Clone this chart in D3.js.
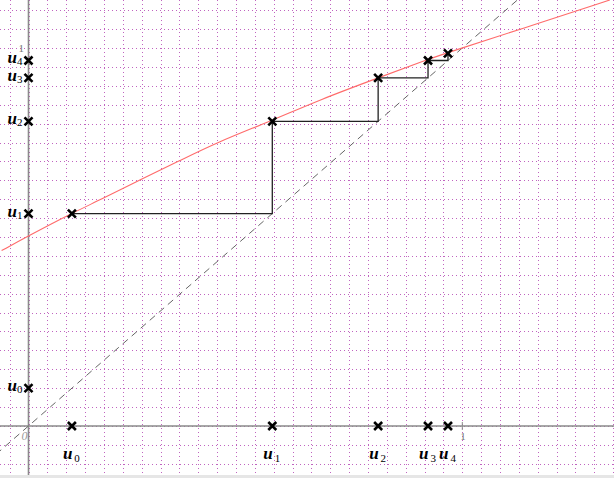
<!DOCTYPE html>
<html>
<head>
<meta charset="utf-8">
<script src="https://cdn.jsdelivr.net/npm/d3@7"></script>
<style>
  body { margin: 0; background: #fff; }
  svg { display: block; }
</style>
</head>
<body>
<svg width="614" height="478"></svg>
<script>
// terms of the sequence u(n+1) = f(u(n))
const terms = [0.1, 0.562, 0.806, 0.921, 0.967, 0.986];
const termLabels = ["0", "1", "2", "3", "4"];

// red curve y = f(x)
const curveX = [-0.062, 0.0, 0.1, 0.165, 0.257, 0.347, 0.434, 0.559, 0.673, 0.806, 0.921, 0.967, 1.14, 1.34];
const curveY = [0.464, 0.503, 0.563, 0.598, 0.651, 0.701, 0.750, 0.807, 0.864, 0.921, 0.970, 0.988, 1.052, 1.127];

// grid step and visible window
const gridStepX = 1 / 23, gridStepY = 0.05;
const xDomain = [-0.0657, 1.3497], yDomain = [-0.1376, 1.127];

const svg = d3.select("svg"),
      width = +svg.attr("width"),
      height = +svg.attr("height");

const x = d3.scaleLinear().domain(xDomain).range([0, width]);
const y = d3.scaleLinear().domain(yDomain).range([height, 0]);

// dotted grid
const gx = d3.range(Math.ceil(xDomain[0] / gridStepX), Math.floor(xDomain[1] / gridStepX) + 1).map(k => k * gridStepX);
const gy = d3.range(Math.ceil(yDomain[0] / gridStepY), Math.floor(yDomain[1] / gridStepY) + 1).map(k => k * gridStepY);

const grid = svg.append("g")
    .attr("stroke", "#c064c0")
    .attr("stroke-width", 1)
    .attr("stroke-dasharray", "1,3");

grid.selectAll(".gv").data(gx).enter().append("line")
    .attr("x1", d => Math.round(x(d)) + 0.5).attr("x2", d => Math.round(x(d)) + 0.5)
    .attr("y1", 0).attr("y2", height);

grid.selectAll(".gh").data(gy).enter().append("line")
    .attr("y1", d => Math.round(y(d)) + 0.5).attr("y2", d => Math.round(y(d)) + 0.5)
    .attr("x1", 0).attr("x2", width);

// axes
const axes = svg.append("g").attr("stroke", "#8a8a8a").attr("stroke-width", 1.6);
axes.append("line").attr("x1", 0).attr("x2", width).attr("y1", y(0)).attr("y2", y(0));
axes.append("line").attr("x1", x(0)).attr("x2", x(0)).attr("y1", 0).attr("y2", height);
axes.append("line").attr("stroke-width", 1)
    .attr("x1", x(1)).attr("x2", x(1)).attr("y1", y(0) - 4).attr("y2", y(0) + 4);

svg.append("text").attr("x", x(1) - 2).attr("y", y(0) + 14)
    .attr("font-family", "Liberation Serif").attr("font-size", 11).attr("fill", "#777").text("1");
svg.append("text").attr("x", x(0) - 10).attr("y", y(1) + 4)
    .attr("font-family", "Liberation Serif").attr("font-size", 11).attr("fill", "#777").text("1");
svg.append("text").attr("x", x(0) - 7).attr("y", y(0) + 14)
    .attr("font-family", "Liberation Serif").attr("font-style", "italic")
    .attr("font-size", 12).attr("fill", "#999").text("0");

// diagonal y = x
svg.append("line")
    .attr("x1", x(yDomain[0])).attr("y1", y(yDomain[0]))
    .attr("x2", x(yDomain[1])).attr("y2", y(yDomain[1]))
    .attr("stroke", "#666").attr("stroke-width", 1)
    .attr("stroke-dasharray", "7,5");

// curve
const line = d3.line().x(d => x(d[0])).y(d => y(d[1])).curve(d3.curveBasis);
svg.append("path")
    .datum(d3.zip(curveX, curveY))
    .attr("fill", "none")
    .attr("stroke", "#ff6b6b")
    .attr("stroke-width", 1.1)
    .attr("d", line);

// cobweb steps
const web = [[terms[0], terms[1]]];
for (let i = 1; i < terms.length - 1; i++) {
    web.push([terms[i], terms[i]]);
    web.push([terms[i], terms[i + 1]]);
}
svg.append("path")
    .datum(web)
    .attr("fill", "none")
    .attr("stroke", "#222")
    .attr("stroke-width", 1.3)
    .attr("d", d3.line().x(d => x(d[0])).y(d => y(d[1])));

// crosses
function cross(cx, cy) {
    const s = 4;
    svg.append("path")
        .attr("d", `M${cx - s},${cy - s}L${cx + s},${cy + s}M${cx - s},${cy + s}L${cx + s},${cy - s}`)
        .attr("stroke", "#000").attr("stroke-width", 2.6);
}

const n = termLabels.length;
for (let i = 0; i < n; i++) {
    cross(x(terms[i]), y(terms[i + 1]));
    cross(x(terms[i]), y(0));
    cross(x(0), y(terms[i]));
}

// labels
function label(lx, ly, sub, subDx, subDy) {
    const t = svg.append("text")
        .attr("x", lx).attr("y", ly)
        .attr("font-family", "Liberation Serif")
        .attr("fill", "#000");
    t.append("tspan").attr("font-size", 17).attr("font-weight", "bold")
        .attr("font-style", "italic").text("u");
    t.append("tspan").attr("font-size", 11).attr("dx", subDx).attr("dy", subDy).text(sub);
}

termLabels.forEach((s, i) => {
    label(x(terms[i]) - 9, y(0) + 33, s, 2, 3);
    label(x(0) - 21, y(terms[i]) + 3, s, 0, 2);
});

// bottom edge band
svg.append("rect").attr("x", 0).attr("y", height - 3).attr("width", width).attr("height", 3).attr("fill", "#e6e6e6");
</script>
</body>
</html>
